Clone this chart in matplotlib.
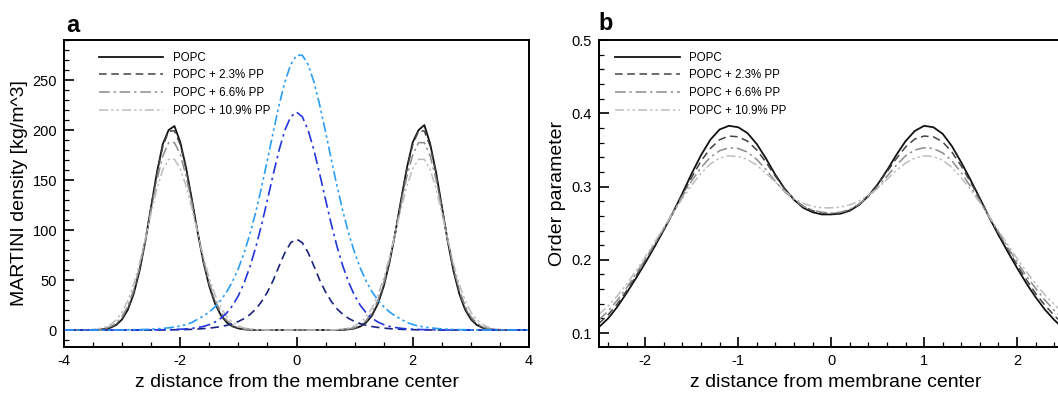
import numpy as np
import matplotlib
matplotlib.use('Agg')
import matplotlib.pyplot as plt
from matplotlib.ticker import MultipleLocator

plt.rcParams['font.family'] = ['Liberation Sans', 'DejaVu Sans']
plt.rcParams['axes.unicode_minus'] = False

# ---------------- panel a: MARTINI density ----------------
z_a = [-4.0, -3.9, -3.8, -3.7, -3.6, -3.5, -3.4, -3.3, -3.2, -3.1,
       -3.0, -2.9, -2.8, -2.7, -2.6, -2.5, -2.4, -2.3, -2.2, -2.1,
       -2.0, -1.9, -1.8, -1.7, -1.6, -1.5, -1.4, -1.3, -1.2, -1.1,
       -1.0, -0.9, -0.8, -0.7, -0.6, -0.5, -0.4, -0.3, -0.2, -0.1,
       0.0, 0.1, 0.2, 0.3, 0.4, 0.5, 0.6, 0.7, 0.8, 0.9,
       1.0, 1.1, 1.2, 1.3, 1.4, 1.5, 1.6, 1.7, 1.8, 1.9,
       2.0, 2.1, 2.2, 2.3, 2.4, 2.5, 2.6, 2.7, 2.8, 2.9,
       3.0, 3.1, 3.2, 3.3, 3.4, 3.5, 3.6, 3.7, 3.8, 3.9, 4.0]

# lipid densities (grey curves)
popc_a = [0, 0, 0, 0,
          0.0, 0.1, 0.35, 0.9, 2.3, 5.1, 10.7, 20.5, 36.4, 59.3, 89.3, 123.7, 158.1, 186.1, 200.0,
          204.0, 187.9, 162.4, 130.4, 97.4, 67.6, 43.6, 26.2, 14.6, 7.5, 3.6, 1.6, 0.7, 0.26, 0.09,
          0, 0, 0, 0, 0, 0, 0, 0, 0, 0, 0, 0, 0,
          0.09, 0.26, 0.7, 1.6, 3.6, 7.5, 14.6, 26.2, 43.6, 67.6, 97.4, 130.4, 162.4, 187.9, 200.0,
          205.0, 186.1, 158.1, 123.7, 89.3, 59.3, 36.4, 20.5, 10.7, 5.1, 2.3, 0.9, 0.35, 0.1, 0.0,
          0, 0, 0, 0]
pp23_a = [0, 0, 0, 0,
          0.05, 0.15, 0.4, 1.1, 2.5, 5.6, 11.4, 21.6, 37.6, 60.5, 90.0, 123.6, 156.9, 183.8, 199.0,
          199.2, 185.5, 160.9, 130.0, 97.8, 68.6, 44.7, 27.2, 15.4, 8.1, 4.0, 1.8, 0.8, 0.3, 0.1,
          0, 0, 0, 0, 0, 0, 0, 0, 0, 0, 0, 0, 0,
          0.1, 0.3, 0.8, 1.8, 4.0, 8.1, 15.4, 27.2, 44.7, 68.6, 97.8, 130.0, 160.9, 185.5, 199.2,
          199.0, 183.8, 156.9, 123.6, 90.0, 60.5, 37.6, 21.6, 11.4, 5.6, 2.5, 1.1, 0.4, 0.15, 0.05,
          0, 0, 0, 0]
pp66_a = [0, 0, 0, 0,
          0.09, 0.24, 0.6, 1.5, 3.4, 7.0, 13.5, 24.2, 40.4, 62.6, 90.2, 120.8, 150.4, 174.1, 187.3,
          187.5, 175.5, 153.9, 126.3, 97.1, 69.9, 47.1, 29.7, 17.6, 9.7, 5.0, 2.4, 1.1, 0.5, 0.2,
          0, 0, 0, 0, 0, 0, 0, 0, 0, 0, 0, 0, 0,
          0.2, 0.5, 1.1, 2.4, 5.0, 9.7, 17.6, 29.7, 47.1, 69.9, 97.1, 126.3, 153.9, 175.5, 187.5,
          187.3, 174.1, 150.4, 120.8, 90.2, 62.6, 40.4, 24.2, 13.5, 7.0, 3.4, 1.5, 0.6, 0.24, 0.09,
          0, 0, 0, 0]
pp109_a = [0, 0, 0, 0.1,
           0.24, 0.6, 1.3, 2.8, 5.5, 10.3, 18.0, 29.7, 45.9, 66.8, 91.4, 117.3, 141.5, 160.3, 170.7,
           170.8, 161.4, 144.1, 121.5, 96.9, 73.0, 51.9, 34.9, 22.2, 13.3, 7.6, 4.1, 2.1, 1.0, 0.4,
           0.2, 0.08, 0, 0, 0, 0, 0, 0, 0, 0, 0, 0.08, 0.2,
           0.4, 1.0, 2.1, 4.1, 7.6, 13.3, 22.2, 34.9, 51.9, 73.0, 96.9, 121.5, 144.1, 161.4, 170.8,
           170.7, 160.3, 141.5, 117.3, 91.4, 66.8, 45.9, 29.7, 18.0, 10.3, 5.5, 2.8, 1.3, 0.6, 0.24,
           0.1, 0, 0, 0]

# PP densities (blue curves)
pp_dens_23 = [0, 0, 0, 0, 0, 0, 0, 0, 0, 0, 0, 0, 0, 0, 0, 0, 0,
              0.1, 0.15, 0.25, 0.35, 0.5, 0.7, 1.0, 1.4, 1.9, 2.6, 3.5, 4.7, 6.3, 8.5, 11.5, 15.5,
              21.0, 28.5, 38.0, 49.8, 63.9, 77.4, 87.3,
              91.0,
              87.3, 77.4, 63.9, 49.8, 38.0, 28.5, 21.0,
              15.5, 11.5, 8.5, 6.3, 4.7, 3.5, 2.6, 1.9, 1.4, 1.0, 0.7, 0.5, 0.35, 0.25, 0.15, 0.1,
              0, 0, 0, 0, 0, 0, 0, 0, 0, 0, 0, 0, 0, 0, 0, 0, 0]
pp_dens_66 = [0, 0, 0, 0, 0, 0, 0, 0, 0, 0, 0, 0, 0, 0,
              0.08, 0.13, 0.2, 0.28, 0.4, 0.55, 0.8, 1.1, 1.7, 2.5, 3.6, 5.4, 8.0, 11.8, 17.1, 24.5,
              34.4, 47.3, 63.5, 82.9, 105.5, 130.3, 155.8, 179.9, 199.9, 213.3,
              218.0,
              213.3, 199.9, 179.9, 155.8, 130.3, 105.5, 82.9, 63.5, 47.3, 34.4,
              24.5, 17.1, 11.8, 8.0, 5.4, 3.6, 2.5, 1.7, 1.1, 0.8, 0.55, 0.4, 0.28, 0.2, 0.13, 0.08,
              0, 0, 0, 0, 0, 0, 0, 0, 0, 0, 0, 0, 0, 0]
pp_dens_109 = [0, 0, 0, 0, 0, 0, 0, 0, 0, 0,
               0.1, 0.2, 0.3, 0.4, 0.6, 0.9, 1.2, 1.6, 2.2, 3.0, 4.0, 5.5, 7.5, 10.8, 14.0,
               18.1, 23.3, 29.9, 38.2, 48.7, 61.6, 77.4, 96.2, 118.2, 143.1, 170.2, 198.1,
               224.8, 248.2, 265.5,
               274.8, 274.8, 265.5, 248.2, 224.8, 198.1, 170.2, 143.1, 118.2, 96.2, 77.4,
               61.6, 48.7, 38.2, 29.9, 23.3, 18.1, 14.0, 10.8, 7.5, 5.5, 4.0, 3.0, 2.2, 1.6,
               1.2, 0.9, 0.6, 0.4, 0.3, 0.2, 0.1,
               0, 0, 0, 0, 0, 0, 0, 0, 0]

# ---------------- panel b: order parameter ----------------
z_b = [-2.5, -2.4, -2.3, -2.2, -2.1, -2.0, -1.9, -1.8, -1.7, -1.6,
       -1.5, -1.4, -1.3, -1.2, -1.1, -1.0, -0.9, -0.8, -0.7, -0.6,
       -0.5, -0.4, -0.3, -0.2, -0.1, 0.0, 0.1, 0.2, 0.3, 0.4,
       0.5, 0.6, 0.7, 0.8, 0.9, 1.0, 1.1, 1.2, 1.3, 1.4,
       1.5, 1.6, 1.7, 1.8, 1.9, 2.0, 2.1, 2.2, 2.3, 2.4, 2.5]

popc_b = [0.108, 0.120, 0.136, 0.155, 0.175, 0.196, 0.218, 0.241, 0.265, 0.291,
          0.318, 0.343, 0.364, 0.378, 0.383, 0.381, 0.373, 0.358, 0.338, 0.316,
          0.297, 0.282, 0.271, 0.265, 0.262, 0.262,
          0.263, 0.267, 0.275, 0.287, 0.303, 0.322, 0.343, 0.362, 0.376, 0.383,
          0.381, 0.372, 0.355, 0.333, 0.309, 0.284, 0.258, 0.234, 0.211, 0.189,
          0.168, 0.149, 0.132, 0.118, 0.106]
pp23_b = [0.113, 0.125, 0.140, 0.158, 0.178, 0.199, 0.220, 0.242, 0.265, 0.289,
          0.313, 0.335, 0.352, 0.364, 0.369, 0.368, 0.362, 0.350, 0.333, 0.314,
          0.297, 0.283, 0.273, 0.267, 0.264, 0.263,
          0.264, 0.268, 0.276, 0.288, 0.303, 0.320, 0.338, 0.354, 0.365, 0.369,
          0.368, 0.361, 0.347, 0.328, 0.306, 0.283, 0.259, 0.236, 0.214, 0.193,
          0.173, 0.154, 0.138, 0.124, 0.112]
pp66_b = [0.118, 0.130, 0.145, 0.162, 0.181, 0.201, 0.222, 0.243, 0.265, 0.287,
          0.308, 0.326, 0.340, 0.349, 0.353, 0.352, 0.347, 0.337, 0.323, 0.307,
          0.293, 0.282, 0.273, 0.268, 0.265, 0.264,
          0.265, 0.269, 0.276, 0.286, 0.299, 0.314, 0.329, 0.342, 0.350, 0.353,
          0.352, 0.346, 0.335, 0.319, 0.300, 0.280, 0.259, 0.238, 0.217, 0.197,
          0.178, 0.161, 0.145, 0.131, 0.119]
pp109_b = [0.125, 0.137, 0.151, 0.167, 0.185, 0.204, 0.224, 0.244, 0.264, 0.284,
           0.302, 0.318, 0.331, 0.339, 0.342, 0.341, 0.337, 0.329, 0.318, 0.306,
           0.294, 0.284, 0.277, 0.273, 0.271, 0.271,
           0.272, 0.275, 0.280, 0.288, 0.298, 0.310, 0.322, 0.332, 0.339, 0.342,
           0.341, 0.336, 0.326, 0.312, 0.296, 0.278, 0.259, 0.240, 0.221, 0.202,
           0.184, 0.167, 0.152, 0.139, 0.127]

labels = ['POPC', 'POPC + 2.3% PP', 'POPC + 6.6% PP', 'POPC + 10.9% PP']

# line styles: solid, dashed, dash-dot, dash-dot-dot
ls_solid = '-'
ls_dash = (0, (5, 3))
ls_dashdot = (0, (7, 2.5, 1.5, 2.5))
ls_dashdotdot = (0, (6, 2, 1.5, 2, 1.5, 2))
grey_styles = [('#111111', ls_solid, 1.3), ('#444444', ls_dash, 1.1),
               ('#8c8c8c', ls_dashdot, 1.1), ('#bdbdbd', ls_dashdotdot, 1.1)]


def style_axes(ax):
    for s in ax.spines.values():
        s.set_linewidth(1.4)
    ax.tick_params(which='both', direction='in', top=False, right=False, labelsize=10.5)
    ax.tick_params(which='major', length=7, width=1.2, pad=5)
    ax.tick_params(which='minor', length=3.5, width=0.9)


fig = plt.figure(figsize=(10.58, 3.93), dpi=100)

# panel a
ax1 = fig.add_axes([0.0605, 0.117, 0.4395, 0.781])
for series, (c, ls, lw), lab in zip([popc_a, pp23_a, pp66_a, pp109_a], grey_styles, labels):
    ax1.plot(z_a, series, color=c, linestyle=ls, linewidth=lw, label=lab)
ax1.plot(z_a, pp_dens_23, color='#1b2380', linestyle=ls_dash, linewidth=1.2)
ax1.plot(z_a, pp_dens_66, color='#2236e0', linestyle=ls_dashdot, linewidth=1.2)
ax1.plot(z_a, pp_dens_109, color='#2a9df4', linestyle=ls_dashdotdot, linewidth=1.2)
ax1.set_xlim(-4, 4)
ax1.set_ylim(-17, 290)
ax1.xaxis.set_major_locator(MultipleLocator(2))
ax1.xaxis.set_minor_locator(MultipleLocator(0.5))
ax1.yaxis.set_major_locator(MultipleLocator(50))
ax1.yaxis.set_minor_locator(MultipleLocator(10))
ax1.set_yticks([0, 50, 100, 150, 200, 250])
style_axes(ax1)
ax1.set_xlabel('z distance from the membrane center', fontsize=14, labelpad=4)
ax1.set_ylabel('MARTINI density [kg/m^3]', fontsize=14, labelpad=3)
ax1.legend(loc='upper left', frameon=False, fontsize=8.3, handlelength=5.6,
           handletextpad=0.8, labelspacing=0.5, borderaxespad=0.6, bbox_to_anchor=(0.05, 1.0))
fig.text(0.063, 0.935, 'a', fontsize=17, fontweight='bold', va='center')

# panel b
ax2 = fig.add_axes([0.566, 0.117, 0.448, 0.781])
for series, (c, ls, lw), lab in zip([popc_b, pp23_b, pp66_b, pp109_b], grey_styles, labels):
    ax2.plot(z_b, series, color=c, linestyle=ls, linewidth=lw, label=lab)
ax2.set_xlim(-2.5, 2.6)
ax2.set_ylim(0.081, 0.5)
ax2.xaxis.set_major_locator(MultipleLocator(1))
ax2.xaxis.set_minor_locator(MultipleLocator(0.2))
ax2.yaxis.set_major_locator(MultipleLocator(0.1))
ax2.yaxis.set_minor_locator(MultipleLocator(0.02))
ax2.set_xticks([-2, -1, 0, 1, 2])
ax2.set_xticklabels(['-2', '-1', '0', '1', '2'])
style_axes(ax2)
ax2.set_xlabel('z distance from membrane center', fontsize=14, labelpad=4)
ax2.set_ylabel('Order parameter', fontsize=14, labelpad=4)
ax2.legend(loc='upper left', frameon=False, fontsize=8.3, handlelength=5.6,
           handletextpad=0.8, labelspacing=0.5, borderaxespad=0.6, bbox_to_anchor=(0.01, 1.0))
fig.text(0.566, 0.94, 'b', fontsize=17, fontweight='bold', va='center')

fig.savefig('out.png', dpi=100)
